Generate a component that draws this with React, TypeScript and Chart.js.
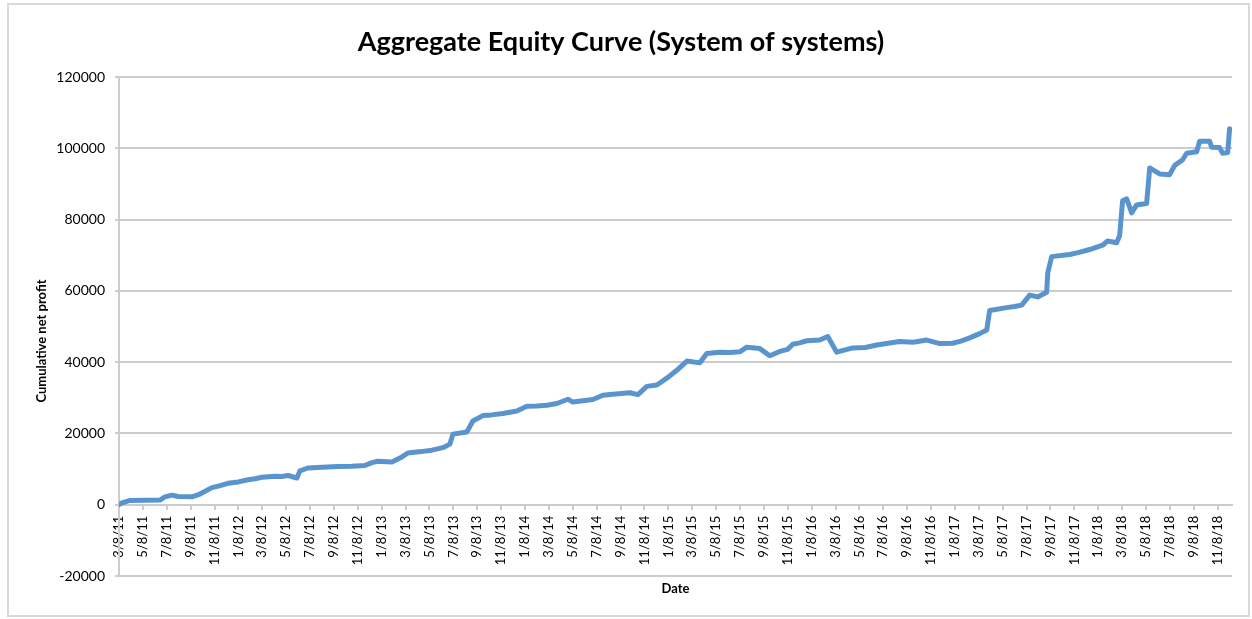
import React, { useEffect, useRef } from "react";
import { Chart, registerables } from "chart.js";

Chart.register(...registerables);

// Months elapsed since 3/8/11 for each sampled point of the curve
const monthOffsets: number[] = [
  0.0, 0.25, 0.92, 3.43, 3.85, 4.44, 4.94, 6.11, 6.78, 7.78, 8.4, 9.12, 10.0, 10.8, 11.4, 11.97, 13.06,
  13.6, 14.15, 14.9, 15.15, 15.82, 17.0, 18.33, 19.5, 20.59, 21.18, 21.68, 22.85, 23.69, 24.19, 25.3,
  26.2, 27.12, 27.71, 27.96, 29.13, 29.63, 30.47, 31.2, 32.14, 33.32, 34.15, 35.0, 35.83, 36.67, 37.59,
  38.0, 39.68, 40.52, 41.35, 42.78, 43.45, 44.2, 45.04, 45.87, 46.71, 47.55, 48.64, 49.22, 50.31, 51.2,
  51.98, 52.57, 53.66, 54.49, 55.33, 56.0, 56.42, 57.0, 57.59, 58.68, 59.35, 60.1, 61.44, 62.5, 63.45,
  64.4, 65.38, 66.5, 67.64, 68.73, 69.81, 70.5, 71.24, 72.07, 72.66, 72.91, 74.33, 75.0, 75.59, 76.26,
  76.93, 77.68, 77.77, 78.1, 79.61, 80.4, 81.28, 82.37, 82.79, 83.54, 83.79, 84.04, 84.38, 84.8, 85.22,
  86.05, 86.31, 87.14, 87.98, 88.4, 89.07, 89.4, 90.24, 90.49, 91.33, 91.49, 92.16, 92.42, 92.84, 93.0,
];

// Cumulative net profit at each sampled point
const equity: number[] = [
  0, 500, 1200, 1300, 2200, 2700, 2300, 2200, 3000, 4800, 5300, 6000, 6400, 7000, 7300, 7700, 8000,
  7900, 8200, 7500, 9500, 10300, 10500, 10700, 10800, 11000, 11800, 12200, 12000, 13400, 14500, 14900,
  15300, 16000, 17000, 19800, 20400, 23500, 25000, 25200, 25600, 26300, 27600, 27700, 27900, 28400, 29600,
  28800, 29500, 30700, 31000, 31400, 30900, 33200, 33600, 35500, 37700, 40300, 39800, 42400, 42800, 42700,
  42900, 44200, 43800, 41800, 43000, 43600, 45000, 45400, 46000, 46200, 47200, 42800, 44000, 44100, 44800,
  45300, 45800, 45600, 46200, 45200, 45300, 45900, 46800, 48000, 49000, 54500, 55300, 55600, 56000, 58800,
  58300, 59600, 65000, 69600, 70200, 70800, 71600, 72800, 74000, 73500, 75500, 85300, 85800, 81900, 84100,
  84500, 94500, 92800, 92600, 95200, 96800, 98600, 99000, 102000, 102000, 100300, 100200, 98600, 98800, 105500,
];

const tickLabels: string[] = [
  "3/8/11", "5/8/11", "7/8/11", "9/8/11", "11/8/11",
  "1/8/12", "3/8/12", "5/8/12", "7/8/12", "9/8/12", "11/8/12",
  "1/8/13", "3/8/13", "5/8/13", "7/8/13", "9/8/13", "11/8/13",
  "1/8/14", "3/8/14", "5/8/14", "7/8/14", "9/8/14", "11/8/14",
  "1/8/15", "3/8/15", "5/8/15", "7/8/15", "9/8/15", "11/8/15",
  "1/8/16", "3/8/16", "5/8/16", "7/8/16", "9/8/16", "11/8/16",
  "1/8/17", "3/8/17", "5/8/17", "7/8/17", "9/8/17", "11/8/17",
  "1/8/18", "3/8/18", "5/8/18", "7/8/18", "9/8/18", "11/8/18",
];
// Month offsets of the tick labels (every two months)
const tickMonths: number[] = tickLabels.map((_, i) => i * 2);

const Y_TITLE = "Cumulative net profit";
const FONT = "Lato, 'Open Sans', sans-serif";
const GRID = "#cccccc";

const yTitlePlugin = {
  id: "yTitle",
  afterDraw(chart: any) {
    const ctx = chart.ctx;
    ctx.save();
    ctx.translate(42, 341);
    ctx.rotate(-Math.PI / 2);
    ctx.font = `bold 13px ${FONT}`;
    ctx.fillStyle = "#000";
    ctx.textAlign = "center";
    ctx.textBaseline = "middle";
    ctx.fillText(Y_TITLE, 0, 0);
    ctx.restore();
  },
};

export default function App() {
  const ref = useRef<HTMLCanvasElement | null>(null);

  useEffect(() => {
    if (!ref.current) return;
    const chart = new Chart(ref.current, {
      type: "line",
      data: {
        datasets: [
          {
            label: "Equity",
            data: monthOffsets.map((m, i) => ({ x: m, y: equity[i] })),
            borderColor: "rgb(90,148,206)",
            backgroundColor: "rgb(90,148,206)",
            borderWidth: 5,
            pointRadius: 0,
            borderJoinStyle: "round",
            borderCapStyle: "round",
            tension: 0,
          },
        ],
      },
      plugins: [yTitlePlugin],
      options: {
        responsive: false,
        animation: false,
        layout: { padding: { left: 10, right: 20, top: 10, bottom: 4 } },
        plugins: {
          legend: { display: false },
          tooltip: { enabled: false },
          title: {
            display: true,
            text: "Aggregate Equity Curve (System of systems)",
            color: "#000",
            font: { family: FONT, size: 27, weight: "bold" },
            padding: { top: 15.8, bottom: 18.8 },
          },
        },
        scales: {
          x: {
            type: "linear",
            position: { y: 0 } as any,
            min: 0,
            max: 93.2,
            afterBuildTicks: (scale: any) => {
              scale.ticks = tickMonths.map((v) => ({ value: v }));
            },
            ticks: {
              autoSkip: false,
              maxRotation: 90,
              minRotation: 90,
              padding: 7,
              color: "#000",
              font: { family: FONT, size: 13 },
              callback: (_v: any, i: number) => tickLabels[i],
            },
            grid: {
              display: true,
              drawOnChartArea: false,
              drawTicks: true,
              tickLength: 4,
              color: GRID,
              lineWidth: 2,
            },
            border: { display: true, color: GRID, width: 2 },
          },
          x2: {
            type: "linear",
            position: "bottom",
            ticks: { display: false },
            grid: { display: false },
            border: { display: false },
            title: {
              display: true,
              text: "Date",
              color: "#000",
              font: { family: FONT, size: 13, weight: "bold" },
              padding: { top: 5.2, bottom: 18.2 },
            },
            afterFit: (scale: any) => {
              scale.height = 39;
            },
          },
          y: {
            type: "linear",
            min: -20000,
            max: 120000,
            ticks: {
              stepSize: 20000,
              padding: 10,
              color: "#000",
              font: { family: FONT, size: 14 },
              callback: (v: any) => String(v),
            },
            grid: { color: GRID, lineWidth: 2, tickLength: 4 },
            border: { display: true, color: GRID, width: 2 },
            afterFit: (scale: any) => {
              scale.width = 109;
            },
          },
        },
      },
    });
    return () => chart.destroy();
  }, []);

  return (
    <div style={{ position: "absolute", left: 0, top: 0, width: 1252, height: 619, background: "#fff" }}>
      <div
        style={{
          position: "absolute",
          left: 7,
          top: 3,
          width: 1243,
          height: 614,
          border: "2px solid #d9d9d9",
          boxSizing: "border-box",
        }}
      />
      <canvas
        ref={ref}
        width={1252}
        height={619}
        style={{ position: "absolute", left: 0, top: 0, width: 1252, height: 619 }}
      />
    </div>
  );
}
